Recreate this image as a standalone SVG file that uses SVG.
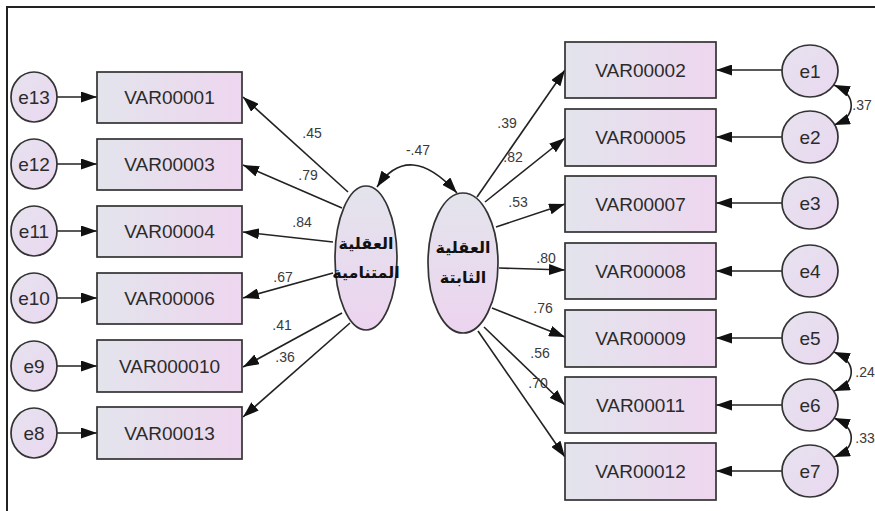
<svg xmlns="http://www.w3.org/2000/svg" width="875" height="511" viewBox="0 0 875 511">
<defs>
<linearGradient id="gbox" x1="0" y1="0" x2="1" y2="0"><stop offset="0" stop-color="#e3e4ec"/><stop offset="1" stop-color="#eed6ef"/></linearGradient>
<linearGradient id="gell" x1="0" y1="0" x2="0" y2="1"><stop offset="0" stop-color="#e3e4ec"/><stop offset="1" stop-color="#ecd4ef"/></linearGradient>
<linearGradient id="gcir" x1="0" y1="0" x2="1" y2="1"><stop offset="0" stop-color="#e6e2ee"/><stop offset="1" stop-color="#ead8f1"/></linearGradient>
<marker id="ah" viewBox="0 0 16 11" refX="16" refY="5.5" markerWidth="16" markerHeight="11" markerUnits="userSpaceOnUse" orient="auto-start-reverse"><path d="M0,0 L16,5.5 L0,11 z" fill="#111"/></marker>
</defs>
<style>
.box{fill:url(#gbox);stroke:#333;stroke-width:1.7}
.lat{fill:url(#gell);stroke:#333;stroke-width:1.7}
.err{fill:url(#gcir);stroke:#333;stroke-width:1.7}
.t{font-family:"Liberation Sans",Arial,sans-serif;font-size:19px;fill:#2b2b2b;text-anchor:middle;dominant-baseline:central}
.ar{font-family:"DejaVu Sans",sans-serif;font-size:16px;font-weight:bold;fill:#111;text-anchor:middle;dominant-baseline:central}
.lb{font-family:"Liberation Sans",Arial,sans-serif;font-size:14px;fill:#3a3a3a;text-anchor:middle;dominant-baseline:central}
.c line,.c path{stroke:#222;stroke-width:1.6;fill:none;marker-end:url(#ah)}
.c .cov{marker-start:url(#ah)}
</style>
<rect x="0" y="0" width="875" height="511" fill="#fff"/>
<path d="M7,511 V7 H875" fill="none" stroke="#222" stroke-width="2"/>

<g id="connectors" class="c">
<line x1="57" y1="97" x2="97" y2="97"/>
<line x1="57" y1="164" x2="97" y2="164"/>
<line x1="57" y1="231" x2="97" y2="231"/>
<line x1="57" y1="298" x2="97" y2="298"/>
<line x1="57" y1="366" x2="97" y2="366"/>
<line x1="57" y1="433" x2="97" y2="433"/>
<line x1="348" y1="192" x2="243" y2="97"/>
<line x1="342" y1="208" x2="243" y2="165"/>
<line x1="333" y1="242" x2="243" y2="232"/>
<line x1="333" y1="273" x2="243" y2="298"/>
<line x1="342" y1="313" x2="243" y2="367"/>
<line x1="350" y1="323" x2="243" y2="417"/>
<line x1="477" y1="197" x2="565" y2="70"/>
<line x1="485" y1="202" x2="565" y2="138"/>
<line x1="496" y1="227" x2="565" y2="204"/>
<line x1="499" y1="268" x2="565" y2="270"/>
<line x1="492" y1="308" x2="565" y2="337"/>
<line x1="484" y1="327" x2="565" y2="405"/>
<line x1="478" y1="331" x2="565" y2="457"/>
<line x1="782" y1="70" x2="716" y2="70"/>
<line x1="782" y1="137" x2="716" y2="137"/>
<line x1="782" y1="203" x2="716" y2="203"/>
<line x1="782" y1="271" x2="716" y2="271"/>
<line x1="782" y1="338" x2="716" y2="338"/>
<line x1="782" y1="405" x2="716" y2="405"/>
<line x1="782" y1="471" x2="716" y2="471"/>
<path class="cov" d="M377,187 Q409,140 457,193"/>
<path class="cov" d="M834,85 C857,95 857,116 834,125"/>
<path class="cov" d="M834,352 C857,362 857,382 834,391"/>
<path class="cov" d="M834,418 C857,428 857,448 834,457"/>
</g>

<g id="labels">
<text class="lb" x="312" y="133">.45</text>
<text class="lb" x="308" y="175">.79</text>
<text class="lb" x="302" y="222">.84</text>
<text class="lb" x="283" y="277">.67</text>
<text class="lb" x="282" y="325">.41</text>
<text class="lb" x="285" y="357">.36</text>
<text class="lb" x="418" y="150">-.47</text>
<text class="lb" x="507" y="123">.39</text>
<text class="lb" x="513" y="157">.82</text>
<text class="lb" x="518" y="202">.53</text>
<text class="lb" x="546" y="258">.80</text>
<text class="lb" x="543" y="308">.76</text>
<text class="lb" x="540" y="353">.56</text>
<text class="lb" x="538" y="383">.70</text>
<text class="lb" x="862" y="105">.37</text>
<text class="lb" x="865" y="372">.24</text>
<text class="lb" x="865" y="438">.33</text>
</g>

<g id="VAR00001"><rect class="box" x="97" y="72" width="145" height="51"/><text class="t" x="169.5" y="97.5">VAR00001</text></g>
<g id="VAR00003"><rect class="box" x="97" y="139" width="145" height="51"/><text class="t" x="169.5" y="164.5">VAR00003</text></g>
<g id="VAR00004"><rect class="box" x="97" y="206" width="145" height="51"/><text class="t" x="169.5" y="231.5">VAR00004</text></g>
<g id="VAR00006"><rect class="box" x="97" y="273" width="145" height="51"/><text class="t" x="169.5" y="298.5">VAR00006</text></g>
<g id="VAR000010"><rect class="box" x="97" y="340" width="145" height="52"/><text class="t" x="169.5" y="366">VAR000010</text></g>
<g id="VAR00013"><rect class="box" x="97" y="407" width="145" height="52"/><text class="t" x="169.5" y="433">VAR00013</text></g>

<g id="e13"><ellipse class="err" cx="34" cy="97" rx="23" ry="25"/><text class="t" x="34" y="97">e13</text></g>
<g id="e12"><ellipse class="err" cx="34" cy="164" rx="23" ry="25"/><text class="t" x="34" y="164">e12</text></g>
<g id="e11"><ellipse class="err" cx="34" cy="231" rx="23" ry="25"/><text class="t" x="34" y="231">e11</text></g>
<g id="e10"><ellipse class="err" cx="34" cy="298" rx="23" ry="25"/><text class="t" x="34" y="298">e10</text></g>
<g id="e9"><ellipse class="err" cx="34" cy="366" rx="23" ry="25"/><text class="t" x="34" y="366">e9</text></g>
<g id="e8"><ellipse class="err" cx="34" cy="433" rx="23" ry="25"/><text class="t" x="34" y="433">e8</text></g>

<g id="latent1"><ellipse class="lat" cx="366" cy="258" rx="31" ry="72"/><text class="ar" x="366" y="243">العقلية</text><text class="ar" x="366" y="272">المتنامية</text></g>
<g id="latent2"><ellipse class="lat" cx="463" cy="263" rx="35" ry="70"/><text class="ar" x="463" y="247">العقلية</text><text class="ar" x="463" y="277">الثابتة</text></g>

<g id="VAR00002"><rect class="box" x="565" y="42" width="151" height="56"/><text class="t" x="640.5" y="70">VAR00002</text></g>
<g id="VAR00005"><rect class="box" x="565" y="109" width="151" height="57"/><text class="t" x="640.5" y="137.5">VAR00005</text></g>
<g id="VAR00007"><rect class="box" x="565" y="176" width="151" height="56"/><text class="t" x="640.5" y="204">VAR00007</text></g>
<g id="VAR00008"><rect class="box" x="565" y="243" width="151" height="56"/><text class="t" x="640.5" y="271">VAR00008</text></g>
<g id="VAR00009"><rect class="box" x="565" y="310" width="151" height="57"/><text class="t" x="640.5" y="338.5">VAR00009</text></g>
<g id="VAR00011"><rect class="box" x="565" y="377" width="151" height="56"/><text class="t" x="640.5" y="405">VAR00011</text></g>
<g id="VAR00012"><rect class="box" x="565" y="443" width="151" height="57"/><text class="t" x="640.5" y="471.5">VAR00012</text></g>

<g id="e1"><ellipse class="err" cx="810" cy="71" rx="28" ry="26"/><text class="t" x="810" y="71">e1</text></g>
<g id="e2"><ellipse class="err" cx="810" cy="137" rx="28" ry="26"/><text class="t" x="810" y="137">e2</text></g>
<g id="e3"><ellipse class="err" cx="810" cy="203" rx="28" ry="26"/><text class="t" x="810" y="203">e3</text></g>
<g id="e4"><ellipse class="err" cx="810" cy="271" rx="28" ry="26"/><text class="t" x="810" y="271">e4</text></g>
<g id="e5"><ellipse class="err" cx="810" cy="338" rx="28" ry="26"/><text class="t" x="810" y="338">e5</text></g>
<g id="e6"><ellipse class="err" cx="810" cy="405" rx="28" ry="26"/><text class="t" x="810" y="405">e6</text></g>
<g id="e7"><ellipse class="err" cx="810" cy="471" rx="28" ry="26"/><text class="t" x="810" y="471">e7</text></g>
</svg>
